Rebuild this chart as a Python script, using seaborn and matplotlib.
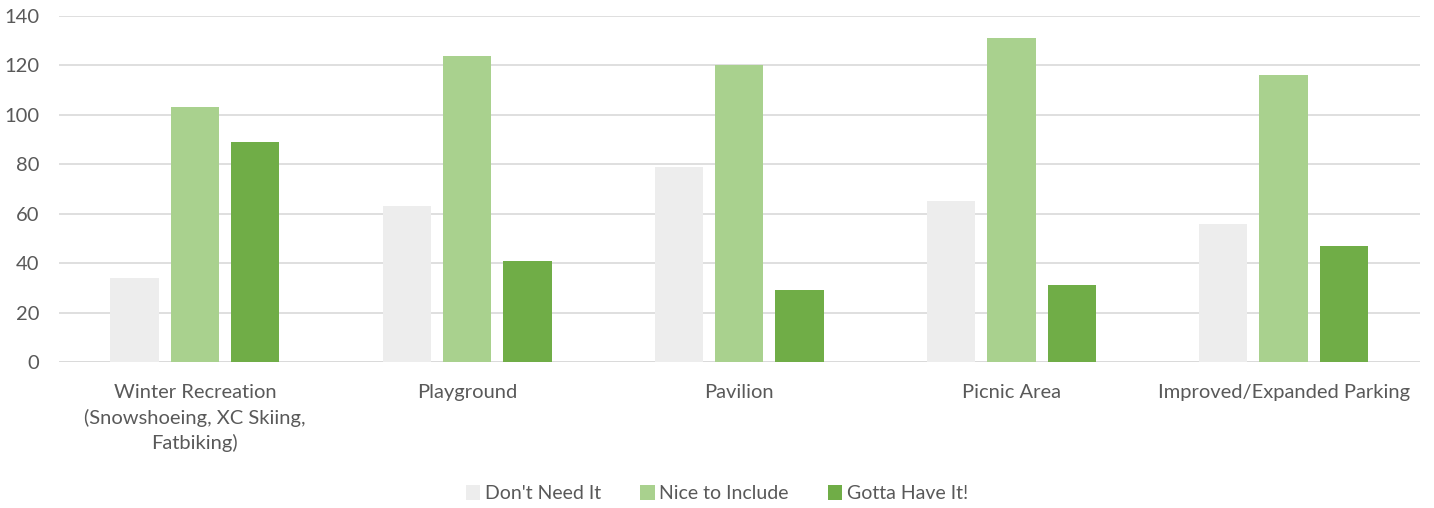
import pandas as pd
import matplotlib.pyplot as plt
import seaborn as sns
from matplotlib.patches import Patch

categories = ["Winter Recreation\n(Snowshoeing, XC Skiing,\nFatbiking)", "Playground", "Pavilion",
              "Picnic Area", "Improved/Expanded Parking"]
series = ["Don't Need It", "Nice to Include", "Gotta Have It!"]
dont_need = [34, 63, 79, 65, 56]
nice_to_include = [103, 124, 120, 131, 116]
gotta_have = [89, 41, 29, 31, 47]
colors = ["#ededed", "#a9d18e", "#70ad47"]

df = pd.DataFrame({
	'Category': categories * 3,
	'Response': [s for s in series for _ in categories],
	'Count': dont_need + nice_to_include + gotta_have,
})

sns.set_style("white")
plt.rcParams['font.family'] = ['Lato', 'DejaVu Sans']
text_color = "#595959"

fig = plt.figure(figsize=(14.34, 5.08), dpi=100)
ax = fig.add_axes([0.041, 0.2874, 0.949, 0.6811])
sns.barplot(data=df, x='Category', y='Count', hue='Response', palette=colors, saturation=1,
			width=0.665, gap=0.2, ax=ax, legend=False, edgecolor='none', linewidth=0)

ax.set_ylim(0, 140)
ax.set_yticks(range(0, 141, 20))
ax.set_xlim(-0.5, 4.5)
ax.yaxis.grid(True, color="#d9d9d9", linewidth=1.2)
ax.set_axisbelow(True)
for s in ax.spines.values():
	s.set_visible(False)
ax.axhline(0, color="#d9d9d9", linewidth=1.2, zorder=0)
ax.tick_params(axis='both', length=0, labelsize=14.5, colors=text_color)
ax.tick_params(axis='y', pad=14)
ax.tick_params(axis='x', pad=16)
for lbl in ax.get_xticklabels():
	lbl.set_linespacing(1.5)
ax.set_xlabel("")
ax.set_ylabel("")

handles = [Patch(facecolor=c, edgecolor='none') for c in colors]
fig.legend(handles, series, loc='center', bbox_to_anchor=(0.5, 0.028), ncol=3, frameon=False,
		   fontsize=14, labelcolor=text_color, handlelength=0.75, handleheight=0.75,
		   handletextpad=0.25, columnspacing=2.0)

fig.savefig('out.png', dpi=100)
